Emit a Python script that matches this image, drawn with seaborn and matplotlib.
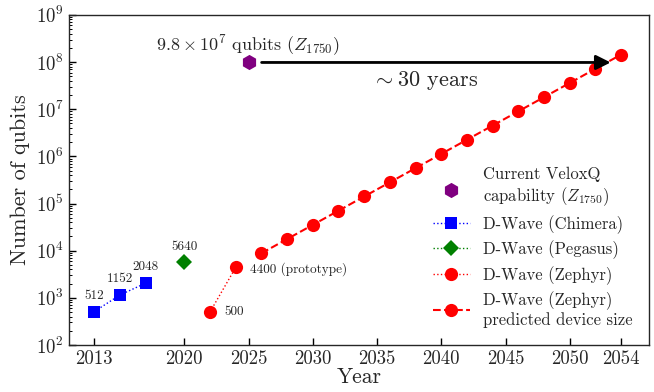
import numpy as np
import pandas as pd
import matplotlib
matplotlib.use("Agg")
import matplotlib.pyplot as plt
from matplotlib.ticker import LogLocator, NullFormatter
import seaborn as sns

# data
chimera_years = [2013, 2015, 2017]
chimera_qubits = [512, 1152, 2048]
pegasus_years = [2020]
pegasus_qubits = [5640]
zephyr_years = [2022, 2024]
zephyr_qubits = [500, 4400]
pred_years = [2026, 2028, 2030, 2032, 2034, 2036, 2038, 2040,
              2042, 2044, 2046, 2048, 2050, 2052, 2054]
pred_qubits = [8800, 17600, 35200, 70400, 140800, 281600, 563200, 1126400,
               2252800, 4505600, 9011200, 18022400, 36044800, 72089600, 144179200]
velox_year = [2025]
velox_qubits = [9.8e7]
xticks = [2013, 2020, 2025, 2030, 2035, 2040, 2045, 2050, 2054]
yticks = [1e2, 1e3, 1e4, 1e5, 1e6, 1e7, 1e8, 1e9]

sns.set_style("ticks")
plt.rcParams["font.family"] = "serif"
plt.rcParams["font.serif"] = ["cmr10"]
plt.rcParams["mathtext.fontset"] = "cm"
plt.rcParams["axes.formatter.use_mathtext"] = True
plt.rcParams["axes.unicode_minus"] = False

fig, ax = plt.subplots(figsize=(6.54, 3.92), dpi=100)

sns.scatterplot(x=velox_year, y=velox_qubits, marker="h", s=120, color="purple",
                edgecolor="purple", linewidth=0, ax=ax,
                label="Current VeloxQ\ncapability ($Z_{1750}$)")
sns.lineplot(x=chimera_years, y=chimera_qubits, color="blue", marker="s", markersize=9,
             markeredgewidth=0, linestyle=":", linewidth=1, ax=ax, label="D-Wave (Chimera)")
sns.lineplot(x=pegasus_years, y=pegasus_qubits, color="green", marker="D", markersize=8,
             markeredgewidth=0, linestyle=":", linewidth=1, ax=ax, label="D-Wave (Pegasus)")
sns.lineplot(x=zephyr_years, y=zephyr_qubits, color="red", marker="o", markersize=9.5,
             markeredgewidth=0, linestyle=":", linewidth=1, ax=ax, label="D-Wave (Zephyr)")
sns.lineplot(x=pred_years, y=pred_qubits, color="red", marker="o", markersize=9.5,
             markeredgewidth=0, linestyle="--", linewidth=1.5, dashes=(4, 2.5), ax=ax,
             label="D-Wave (Zephyr)\npredicted device size")

ax.set_yscale("log")
ax.set_ylim(1e2, 1e9)
ax.set_yticks(yticks)
ax.yaxis.set_minor_locator(LogLocator(base=10, subs=np.arange(2, 10), numticks=20))
ax.yaxis.set_minor_formatter(NullFormatter())
ax.set_ylim(1e2, 1e9)
ax.set_xlim(2011, 2056.2)
ax.set_xticks(xticks)
ax.set_xticklabels([str(t) for t in xticks])
ax.tick_params(which="major", direction="in", length=5, width=1, labelsize=13.5, color="black")
ax.tick_params(axis="y", which="minor", direction="in", length=2.5, width=0.7, color="black")
ax.set_xlabel("Year", fontsize=15.5, labelpad=0)
ax.set_ylabel("Number of qubits", fontsize=16)
for s in ax.spines.values():
    s.set_visible(True)
    s.set_linewidth(1)

# point labels
for x, y in zip(chimera_years, chimera_qubits):
    ax.annotate(str(y), (x, y), xytext=(0, 7), textcoords="offset points",
                ha="center", va="bottom", fontsize=9.5)
ax.annotate(str(pegasus_qubits[0]), (pegasus_years[0], pegasus_qubits[0]), xytext=(0, 7),
            textcoords="offset points", ha="center", va="bottom", fontsize=9.5)
ax.annotate("500", (zephyr_years[0], zephyr_qubits[0]), xytext=(10, 0),
            textcoords="offset points", ha="left", va="center", fontsize=9.5)
ax.annotate("4400 (prototype)", (zephyr_years[1], zephyr_qubits[1]), xytext=(10, -1),
            textcoords="offset points", ha="left", va="center", fontsize=9.5)

# arrow
ax.annotate("", xy=(2053.4, velox_qubits[0]), xytext=(2025.8, velox_qubits[0]),
            arrowprops=dict(arrowstyle="-|>", color="black", lw=2, mutation_scale=22))
ax.text(2024.9, 2.3e8, r"$9.8 \times 10^7$ qubits ($Z_{1750}$)", ha="center", va="center",
        fontsize=13)
ax.text(2038.7, 4.1e7, r"$\sim 30$ years", ha="center", va="center", fontsize=16)

ax.legend(loc="lower right", frameon=False, fontsize=12, handlelength=2.2,
          borderaxespad=0.6, labelspacing=0.4)

plt.subplots_adjust(left=0.105, right=0.993, top=0.962, bottom=0.12)
plt.savefig("out.png", dpi=100)
